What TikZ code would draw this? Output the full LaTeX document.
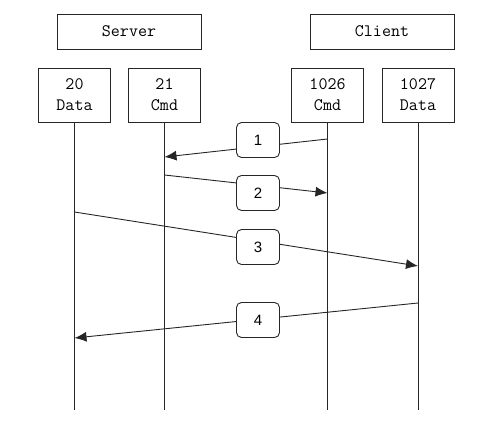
\documentclass[tikz,border=0pt]{standalone}
\usepackage{fontspec}
\setmainfont{Liberation Sans}
\usetikzlibrary{arrows.meta}

\begin{document}
\begin{tikzpicture}[x=1pt,y=-1pt,line width=0.9pt,draw=black!85,
    host/.style={draw,minimum width=144pt,minimum height=35pt,font=\ttfamily\fontsize{17.5}{19}\selectfont},
    port/.style={draw,minimum width=72pt,minimum height=54pt,align=center,font=\ttfamily\fontsize{17.5}{21}\selectfont},
    num/.style={draw,fill=white,rounded corners=5pt,minimum width=43pt,minimum height=35pt,font=\fontsize{15}{17}\selectfont},
    msg/.style={-{Latex[length=12pt,width=10pt]}}]
        \useasboundingbox (0,0) rectangle (502,444);

        \node[host] (server) at (129,31.5) {Server};
        \node[host] (client) at (382,31.5) {Client};

        \node[port] (p20)   at (74.5,95)  {20\\Data};
        \node[port] (p21)   at (164.5,95) {21\\Cmd};
        \node[port] (p1026) at (327.5,95) {1026\\Cmd};
        \node[port] (p1027) at (418,95)   {1027\\Data};

        \coordinate (b20)   at (74.5,410);
        \coordinate (b21)   at (164.5,410);
        \coordinate (b1026) at (327.5,410);
        \coordinate (b1027) at (418,410);

        \draw (p20.south)   -- (b20);
        \draw (p21.south)   -- (b21);
        \draw (p1026.south) -- (b1026);
        \draw (p1027.south) -- (b1027);

        \coordinate (s1) at (327.5,139);
        \coordinate (e1) at (164.5,157);
        \coordinate (s2) at (164.5,175);
        \coordinate (e2) at (327.5,193);
        \coordinate (s3) at (74.5,212);
        \coordinate (e3) at (418,266);
        \coordinate (s4) at (418,303);
        \coordinate (e4) at (74.5,338);

        \draw[msg] (s1) -- (e1);
        \draw[msg] (s2) -- (e2);
        \draw[msg] (s3) -- (e3);
        \draw[msg] (s4) -- (e4);

        \node[num] (m1) at (258,140) {1};
        \node[num] (m2) at (258,193) {2};
        \node[num] (m3) at (258,247) {3};
        \node[num] (m4) at (258,320) {4};
    \end{tikzpicture}
\end{document}
